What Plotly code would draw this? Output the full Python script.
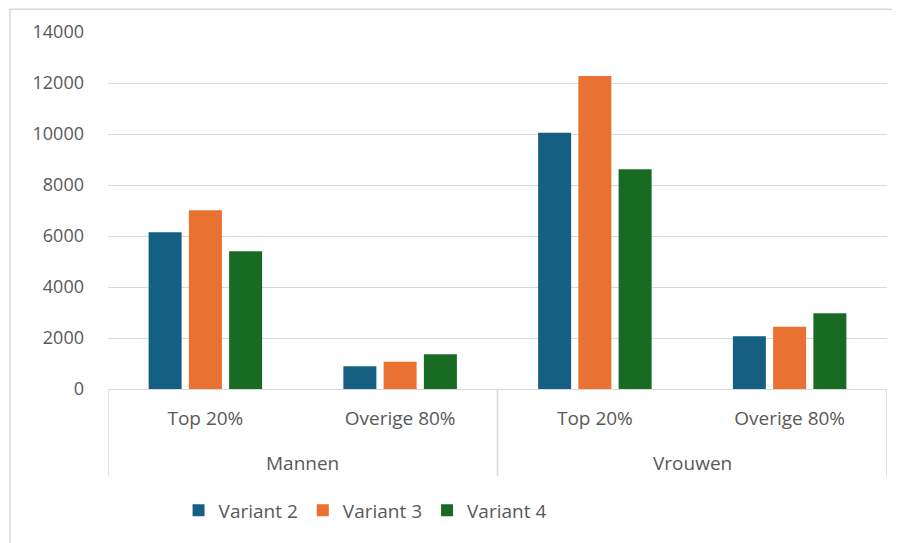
import plotly.graph_objects as go

groups = ["Mannen", "Vrouwen"]
subgroups = ["Top 20%", "Overige 80%", "Top 20%", "Overige 80%"]

variant_2 = [6150, 890, 10050, 2070]
variant_3 = [7010, 1070, 12270, 2440]
variant_4 = [5400, 1360, 8620, 2970]

series = [
    ("Variant 2", variant_2, "#156082"),
    ("Variant 3", variant_3, "#E97132"),
    ("Variant 4", variant_4, "#196B24"),
]

font_family = "'Open Sans', Lato, sans-serif"
text_grey = "#595959"
line_grey = "#D9D9D9"

# category positions along the x axis
xpos = list(range(len(subgroups)))
per_group = len(subgroups) // len(groups)

fig = go.Figure()
for name, vals, col in series:
    fig.add_trace(go.Bar(
        x=xpos, y=vals, name=name,
        marker=dict(color=col, line=dict(width=0)),
    ))

fig.update_layout(
    width=892, height=535,
    margin=dict(l=100, r=13, t=24, b=154, autoexpand=False),
    paper_bgcolor="white", plot_bgcolor="white",
    barmode="group", bargap=0.38, bargroupgap=0.18,
    font=dict(family=font_family, size=19, color=text_grey),
    showlegend=True,
    legend=dict(orientation="h", x=0.33, xanchor="center", y=-0.34, yanchor="middle",
                font=dict(size=19, color=text_grey), itemwidth=30,
                traceorder="normal"),
)
fig.update_yaxes(
    range=[0, 14000], dtick=2000, tickformat="d", showgrid=True,
    gridcolor=line_grey, gridwidth=1, automargin=False,
    zeroline=False, showline=False, ticks="", ticklabelstandoff=23,
    tickfont=dict(size=18, color=text_grey),
)
fig.update_xaxes(
    range=[-0.5, len(subgroups) - 0.5], tickvals=xpos, ticktext=subgroups,
    showgrid=False, zeroline=False, showline=True, linecolor=line_grey, linewidth=1,
    automargin=False, ticks="", ticklabelstandoff=12,
    tickfont=dict(size=19, color=text_grey),
)

# group labels and dividers under the axis
for i, g in enumerate(groups):
    centre = i * per_group + (per_group - 1) / 2
    fig.add_annotation(x=centre, xref="x", y=-0.207, yref="paper", text=g,
                       showarrow=False, yanchor="middle",
                       font=dict(size=19, color=text_grey))
for i in range(len(groups) + 1):
    edge = i * per_group - 0.5
    fig.add_shape(type="line", xref="x", yref="paper", x0=edge, x1=edge,
                  y0=0, y1=-0.244, line=dict(color=line_grey, width=1.5))

# outer chart border (left and top edges visible)
fig.add_shape(type="rect", xref="paper", yref="paper",
              x0=-0.1258, x1=1.05, y0=-0.5, y1=1.064,
              line=dict(color=line_grey, width=1.5), fillcolor="rgba(0,0,0,0)",
              layer="below")

fig.write_html("out.html")
